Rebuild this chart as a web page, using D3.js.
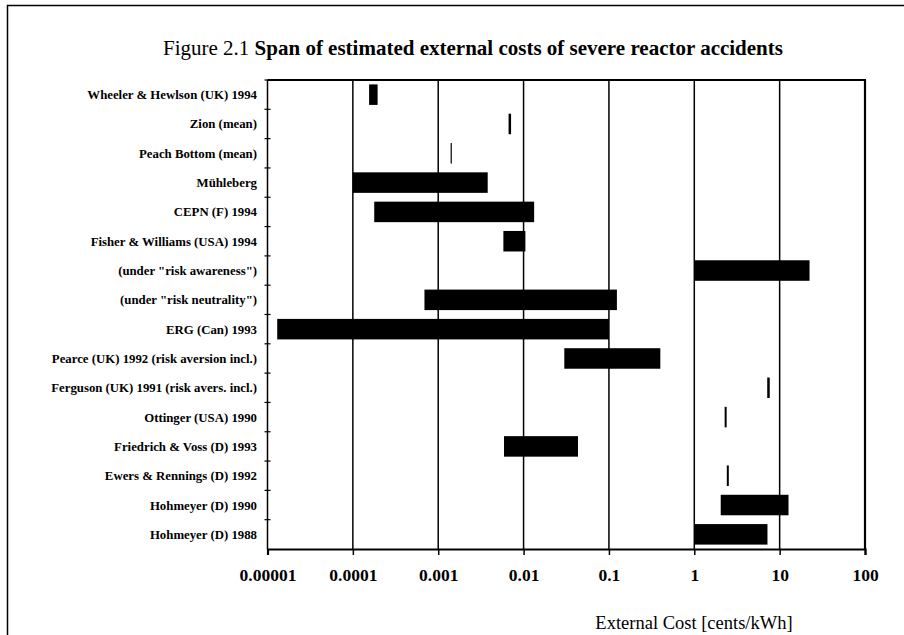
<!DOCTYPE html>
<html>
<head>
<meta charset="utf-8">
<script src="https://cdn.jsdelivr.net/npm/d3@7"></script>
<style>
  body { margin: 0; background: #fff; }
  svg { display: block; }
  text { font-family: "Liberation Serif", "DejaVu Serif", serif; fill: #000; }
</style>
</head>
<body>
<div id="chart"></div>
<script>
// studies, top to bottom
const studies = [
  "Wheeler & Hewlson (UK) 1994",
  "Zion (mean)",
  "Peach Bottom (mean)",
  "Mühleberg",
  "CEPN (F) 1994",
  "Fisher & Williams (USA) 1994",
  "(under \"risk awareness\")",
  "(under \"risk neutrality\")",
  "ERG (Can) 1993",
  "Pearce (UK) 1992 (risk aversion incl.)",
  "Ferguson (UK) 1991 (risk avers. incl.)",
  "Ottinger (USA) 1990",
  "Friedrich & Voss (D) 1993",
  "Ewers & Rennings (D) 1992",
  "Hohmeyer (D) 1990",
  "Hohmeyer (D) 1988"
]
// span of estimates, cents/kWh (low == high -> single estimate)
const lowCost  = [0.000155, 0.0069, 0.00142, 0.0001, 0.000178, 0.0058, 1.0, 0.00069, 0.000013, 0.03, 7.4, 2.33, 0.0059, 2.47, 2.04, 1.0]
const highCost = [0.000195, 0.0069, 0.00142, 0.0038, 0.0133,   0.0105, 22.4, 0.124, 0.1,      0.4, 7.4, 2.33, 0.0434, 2.47, 12.7, 7.2]
const xTicks = [0.00001, 0.0001, 0.001, 0.01, 0.1, 1, 10, 100]
const xTickLabels = ["0.00001", "0.0001", "0.001", "0.01", "0.1", "1", "10", "100"]

const W = 904, H = 635
const m = { left: 267.5, right: 865, top: 80, bottom: 549 }

const svg = d3.select("#chart").append("svg")
  .attr("width", W)
  .attr("height", H)

// page frame
svg.append("path")
  .attr("d", `M7.5,${H} V5.5 H${W}`)
  .attr("fill", "none")
  .attr("stroke", "#000")
  .attr("stroke-width", 1.5)

const title = svg.append("text")
  .attr("x", 473)
  .attr("y", 55)
  .attr("text-anchor", "middle")
  .attr("font-size", 21)
title.append("tspan").text("Figure 2.1 ")
title.append("tspan").attr("font-weight", "bold").text("Span of estimated external costs of severe reactor accidents")

const x = d3.scaleLog().domain([0.00001, 100]).range([m.left, m.right])
const y = d3.scaleBand().domain(studies).range([m.top, m.bottom]).paddingInner(0.3).paddingOuter(0.15)
const yRow = d3.scaleBand().domain(studies).range([m.top, m.bottom])

// vertical gridlines
svg.append("g").selectAll("line")
  .data(xTicks.slice(1))
  .join("line")
  .attr("x1", d => x(d)).attr("x2", d => x(d))
  .attr("y1", m.top).attr("y2", m.bottom)
  .attr("stroke", "#000")
  .attr("stroke-width", d => d === 100 ? 2.2 : 1.5)

// top border
svg.append("line")
  .attr("x1", m.left).attr("x2", m.right + 1)
  .attr("y1", m.top).attr("y2", m.top)
  .attr("stroke", "#000").attr("stroke-width", 2)

// x axis
const xAxis = svg.append("g")
  .attr("transform", `translate(0,${m.bottom})`)
  .call(d3.axisBottom(x).tickValues(xTicks).tickFormat((d, i) => xTickLabels[i]).tickSize(6).tickPadding(14))
xAxis.select(".domain").attr("stroke-width", 2.2)
xAxis.selectAll(".tick line").attr("stroke-width", 1.5)
xAxis.selectAll("text")
  .attr("font-size", 17.5)
  .attr("font-weight", "bold")

// y axis: ticks at row boundaries
svg.append("line")
  .attr("x1", m.left).attr("x2", m.left)
  .attr("y1", m.top).attr("y2", m.bottom)
  .attr("stroke", "#000").attr("stroke-width", 1.5)
svg.append("g").selectAll("line")
  .data(studies)
  .join("line")
  .attr("x1", m.left - 3).attr("x2", m.left + 3)
  .attr("y1", d => yRow(d)).attr("y2", d => yRow(d))
  .attr("stroke", "#000").attr("stroke-width", 1.2)

svg.append("g").selectAll("text")
  .data(studies)
  .join("text")
  .attr("x", 257)
  .attr("y", d => yRow(d) + yRow.bandwidth() / 2 + 4.5)
  .attr("text-anchor", "end")
  .attr("font-size", 12.8)
  .attr("font-weight", "bold")
  .text(d => d)

// spans
const thin = { 1: 2.5, 2: 1.2, 10: 2.5, 11: 2, 13: 2 }
svg.append("g").selectAll("rect")
  .data(studies)
  .join("rect")
  .attr("x", (d, i) => lowCost[i] === highCost[i] ? x(lowCost[i]) - thin[i] / 2 : x(lowCost[i]))
  .attr("width", (d, i) => lowCost[i] === highCost[i] ? thin[i] : x(highCost[i]) - x(lowCost[i]))
  .attr("y", d => y(d))
  .attr("height", y.bandwidth())
  .attr("fill", "#000")

svg.append("text")
  .attr("x", 694)
  .attr("y", 629)
  .attr("text-anchor", "middle")
  .attr("font-size", 18.5)
  .text("External Cost [cents/kWh]")
</script>
</body>
</html>
